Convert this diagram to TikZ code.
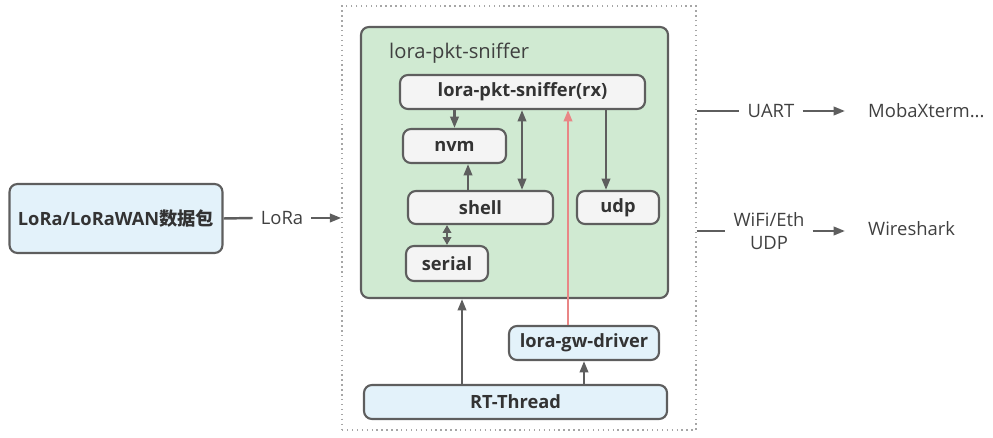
\documentclass[tikz,border=0pt]{standalone}
\usepackage{fontspec}
\usetikzlibrary{arrows.meta}
\setmainfont{Open Sans}
\newfontfamily\cjk{Noto Sans CJK SC}
\definecolor{linegray}{HTML}{5E5E5E}
\definecolor{boxgreen}{HTML}{D0EAD2}
\definecolor{boxblue}{HTML}{E3F2FA}
\definecolor{boxwhite}{HTML}{F4F4F4}
\definecolor{redline}{HTML}{E98686}

\begin{document}
\begin{tikzpicture}[x=0.02cm,y=-0.02cm,->,>={Stealth[length=6.5pt,width=4.8pt,inset=0pt]},
    linegray,line width=1.4pt,
    box/.style={draw=linegray,rounded corners=4.5pt,line width=1.2pt,text=black!80,font=\bfseries\fontsize{10.4}{12}\selectfont,inner sep=0pt},
    inner box/.style={box,fill=boxwhite},
    os box/.style={box,fill=boxblue},
    label text/.style={text=black!75,font=\fontsize{10.5}{13.5}\selectfont,inner sep=4pt}]

            \useasboundingbox (0,0) rectangle (993,438);

            % outer board and module frame
            \node[draw=gray!70,dotted,line width=0.8pt,minimum width=354*0.02cm,minimum height=424*0.02cm] (board) at (519,218) {};
            \node[box,fill=boxgreen,minimum width=307*0.02cm,minimum height=271*0.02cm] (sniffer) at (514.5,162.5) {};
            \node[label text,anchor=west,inner sep=0pt,font=\fontsize{11.5}{13}\selectfont] (title) at (388,53) {lora-pkt-sniffer};

            \node[os box,minimum width=213*0.02cm,minimum height=69*0.02cm] (pkt) at (116,218.5) {LoRa/LoRaWAN{\cjk\bfseries 数据包}};

            \node[inner box,minimum width=245*0.02cm,minimum height=34*0.02cm] (rx) at (522.5,92) {lora-pkt-sniffer(rx)};
            \node[inner box,minimum width=103*0.02cm,minimum height=34*0.02cm] (nvm) at (454.5,146) {nvm};
            \node[inner box,minimum width=145*0.02cm,minimum height=33*0.02cm] (shell) at (480.5,207.5) {shell};
            \node[inner box,minimum width=82*0.02cm,minimum height=33*0.02cm] (udp) at (618,207.5) {udp};
            \node[inner box,minimum width=82*0.02cm,minimum height=35*0.02cm] (serial) at (447,263.5) {serial};
            \node[os box,minimum width=150*0.02cm,minimum height=34*0.02cm] (gw) at (584,343) {lora-gw-driver};
            \node[os box,minimum width=303*0.02cm,minimum height=34*0.02cm] (rtt) at (515.5,402) {RT-Thread};

            \node[label text] (lora) at (282,218) {LoRa};
            \node[label text] (uart) at (771,111) {UART};
            \node[label text,anchor=west,inner sep=0pt] (moba) at (867,111) {MobaXterm...};
            \node[label text,align=center] (wifi) at (769,231) {WiFi/Eth\\UDP};
            \node[label text,anchor=west,inner sep=0pt] (wireshark) at (867,229) {Wireshark};

            % connections inside the board
            \path
                (rx.south -| nvm) edge (nvm.north)
                (shell.north -| 468,0) edge (nvm.south -| 468,0)
                (rx.south -| 522,0) edge[<->] (shell.north -| 522,0)
                (rx.south -| 606,0) edge (udp.north -| 606,0)
                (shell.south -| serial) edge[{Stealth[length=4.5pt,width=4.8pt,inset=0pt]}-{Stealth[length=4.5pt,width=4.8pt,inset=0pt]}] (serial.north)
                (rtt.north -| 462,0) edge (sniffer.south -| 462,0)
                (rtt.north -| gw) edge (gw.south)
                (gw.north -| 568,0) edge[redline] (rx.south -| 568,0)
                ;

            % links to the outside
            \path
                (pkt.east) edge[-] (lora.west)
                (lora.east) edge (board.west |- lora)
                (board.east |- uart) edge[-] (uart.west)
                (uart.east) edge ([xshift=-22*0.02cm]moba.west)
                (board.east |- wifi) edge[-] (wifi.west)
                (wifi.east) edge ([xshift=-22*0.02cm]wireshark.west |- wifi.east)
                ;
        \end{tikzpicture}
\end{document}
